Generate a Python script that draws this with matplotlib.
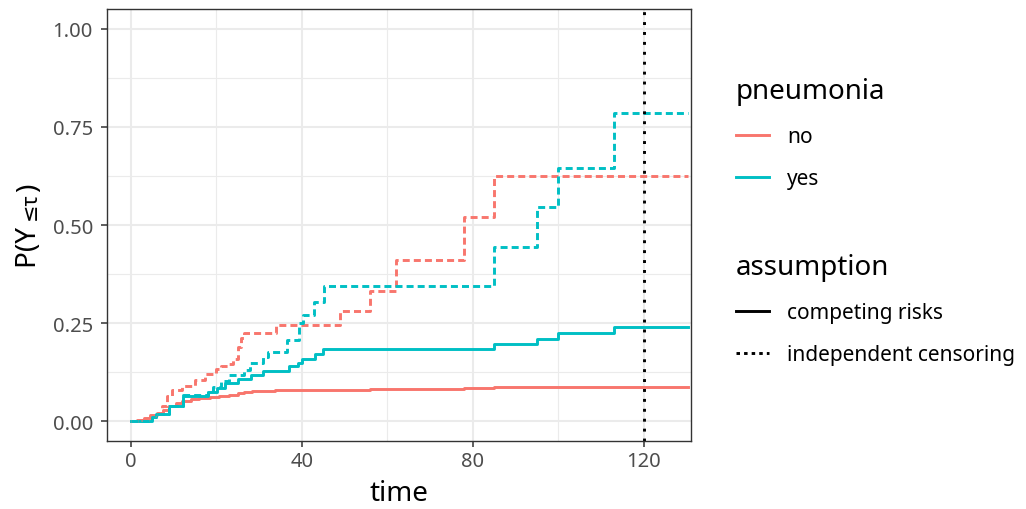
import matplotlib
matplotlib.use("Agg")
import matplotlib.pyplot as plt
from matplotlib.lines import Line2D

plt.rcParams['font.family'] = ['Noto Sans', 'DejaVu Sans']

# no / competing risks
t_no_cr = [0, 1.5, 3, 4.5, 6, 7.5, 9, 10.5, 12, 14, 16, 18.4, 20.5, 23, 25, 26.5, 28.3, 33.7, 49, 56, 62, 78, 85, 130.3]
p_no_cr = [0, 0.003, 0.008, 0.015, 0.022, 0.03, 0.038, 0.046, 0.052, 0.056, 0.059, 0.062, 0.065, 0.068, 0.072, 0.075, 0.077, 0.079, 0.081, 0.082, 0.083, 0.085, 0.087, 0.087]

# no / independent censoring
t_no_ic = [0, 2, 4, 6, 7.2, 8.4, 9.6, 12, 15, 17.4, 19.8, 21, 23, 23.8, 25, 25.7, 26.5, 34, 49, 56, 62, 78, 85, 130.3]
p_no_ic = [0, 0.004, 0.01, 0.02, 0.04, 0.065, 0.08, 0.09, 0.105, 0.12, 0.133, 0.14, 0.145, 0.16, 0.19, 0.212, 0.225, 0.245, 0.28, 0.333, 0.41, 0.52, 0.625, 0.625]

# yes / competing risks
t_yes_cr = [0, 4.9, 5.8, 9, 12.1, 18, 20.2, 22, 25.1, 28.1, 31, 37, 39, 40, 43.1, 45, 85, 95, 100, 113, 130.3]
p_yes_cr = [0, 0.01, 0.02, 0.04, 0.064, 0.075, 0.086, 0.097, 0.107, 0.117, 0.129, 0.14, 0.148, 0.16, 0.172, 0.184, 0.198, 0.211, 0.226, 0.24, 0.24]

# yes / independent censoring
t_yes_ic = [0, 4.9, 5.8, 9, 12.1, 18, 19.3, 21.1, 22.9, 26.5, 27.8, 31, 32, 36.6, 39.4, 40.2, 42.9, 45.1, 85, 95, 100, 113, 130.3]
p_yes_ic = [0, 0.01, 0.02, 0.04, 0.068, 0.077, 0.087, 0.102, 0.117, 0.131, 0.148, 0.163, 0.177, 0.208, 0.25, 0.27, 0.305, 0.345, 0.445, 0.545, 0.645, 0.785, 0.785]

tau = 120

x_ticks = [0, 40, 80, 120]
y_ticks = [0, 0.25, 0.5, 0.75, 1.0]
y_ticklabels = ['0.00', '0.25', '0.50', '0.75', '1.00']

col_no = '#F8766D'
col_yes = '#00BFC4'
lw = 2.1
dash = (0, (2.4, 1.4))

fig = plt.figure(figsize=(10.26, 5.10), dpi=100)
ax = fig.add_axes([0.1043, 0.1333, 0.5692, 0.8471])

ax.set_xticks(x_ticks)
ax.set_xticks([20, 60, 100], minor=True)
ax.set_yticks(y_ticks)
ax.set_yticklabels(y_ticklabels)
ax.set_yticks([0.125, 0.375, 0.625, 0.875], minor=True)
ax.grid(which='major', color='#EBEBEB', lw=1.5)
ax.grid(which='minor', color='#EBEBEB', lw=0.8)
ax.set_axisbelow(True)

ax.plot(t_no_cr, p_no_cr, drawstyle='steps-post', color=col_no, lw=lw)
ax.plot(t_yes_cr, p_yes_cr, drawstyle='steps-post', color=col_yes, lw=lw)
ax.plot(t_no_ic, p_no_ic, drawstyle='steps-post', color=col_no, lw=lw, linestyle=dash)
ax.plot(t_yes_ic, p_yes_ic, drawstyle='steps-post', color=col_yes, lw=lw, linestyle=dash)
ax.axvline(tau, color='black', lw=lw, linestyle=(0, (1, 2.4)))

ax.set_xlim(-5.6, 131)
ax.set_ylim(-0.05, 1.05)
for s in ax.spines.values():
    s.set_color('#333333')
    s.set_linewidth(1.0)
ax.tick_params(which='major', length=4.5, width=1.1, color='#333333',
               labelcolor='#4D4D4D', labelsize=14.5)
ax.tick_params(axis='x', which='major', pad=2.5)
ax.tick_params(axis='y', which='major', pad=5.6)
ax.tick_params(which='minor', length=0)
ax.set_xlabel('time', fontsize=20, labelpad=6)

# y label: symbols drawn a bit smaller, like the plotmath output
renderer = fig.canvas.get_renderer()
parts = [('P(Y ', 20), ('≤τ', 15), (')', 20)]
lab = []
for s, size in parts:
    lab.append(fig.text(36 / 1026, 0, s, rotation=90, rotation_mode='anchor',
                        ha='left', va='baseline', fontsize=size, color='black'))
hts = [t.get_window_extent(renderer).height for t in lab]
y0 = (510 - 226) - sum(hts) / 2
for t, h in zip(lab, hts):
    t.set_position((36 / 1026, y0 / 510))
    y0 += h

h1 = [Line2D([], [], color=col_no, lw=lw), Line2D([], [], color=col_yes, lw=lw)]
leg1 = fig.legend(h1, ['no', 'yes'], title='pneumonia', loc='upper left',
                  bbox_to_anchor=(0.707, 0.868), frameon=False, fontsize=15,
                  title_fontsize=20, handlelength=1.6, handletextpad=0.87,
                  labelspacing=1.02, borderpad=0, alignment='left')
h2 = [Line2D([], [], color='black', lw=lw), Line2D([], [], color='black', lw=lw, linestyle=(0, (1.2, 1.4)))]
leg2 = fig.legend(h2, ['competing risks', 'independent censoring'], title='assumption',
                  loc='upper left', bbox_to_anchor=(0.707, 0.523), frameon=False,
                  fontsize=15, title_fontsize=20, handlelength=1.6,
                  handletextpad=0.87, labelspacing=1.02, borderpad=0, alignment='left')

fig.savefig('out.png', dpi=100)
